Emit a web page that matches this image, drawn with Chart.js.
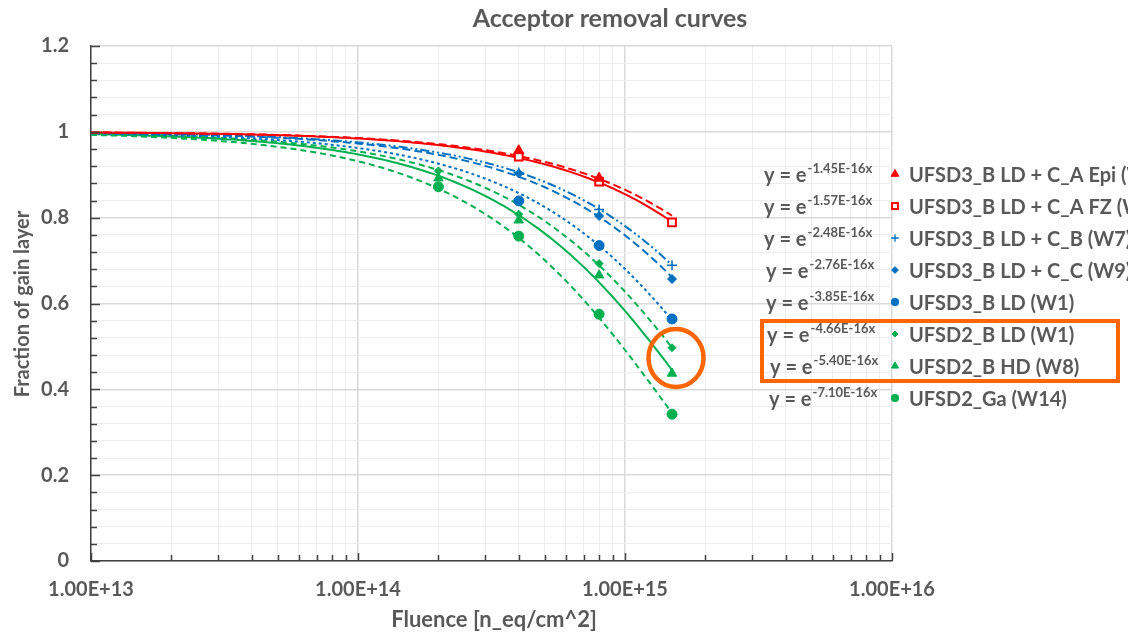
<!DOCTYPE html>
<html>
<head>
<meta charset="utf-8">
<script src="https://cdn.jsdelivr.net/npm/chart.js@4.4.1/dist/chart.umd.min.js"></script>
<style>
  html, body { margin: 0; padding: 0; background: #ffffff; }
  canvas { display: block; }
</style>
</head>
<body>
<canvas id="chart" width="1128" height="632"></canvas>
<script>
// ---- Data -------------------------------------------------------------
const fluence = [2e14, 4e14, 8e14, 1.5e15];          // n_eq/cm^2

const seriesNames = [
  'UFSD3_B LD + C_A Epi (W3)',
  'UFSD3_B LD + C_A FZ (W5)',
  'UFSD3_B LD + C_B (W7)',
  'UFSD3_B LD + C_C (W9)',
  'UFSD3_B LD (W1)',
  'UFSD2_B LD (W1)',
  'UFSD2_B HD (W8)',
  'UFSD2_Ga (W14)'
];

// measured fraction of gain layer at each fluence (null = not measured)
const epiValues  = [null, 0.956, 0.892, null];
const fzValues   = [null, 0.942, 0.884, 0.789];
const cbValues   = [null, 0.905, 0.819, 0.689];
const ccValues   = [null, 0.903, 0.804, 0.657];
const b3ldValues = [null, 0.839, 0.735, 0.564];
const b2ldValues = [0.909, 0.808, 0.693, 0.497];
const b2hdValues = [0.892, 0.794, 0.666, 0.437];
const gaValues   = [0.872, 0.757, 0.575, 0.342];

// exponential fit y = exp(-c * x), c in cm^2
const fitCoefficients = [1.45e-16, 1.57e-16, 2.48e-16, 2.76e-16, 3.85e-16, 4.66e-16, 5.40e-16, 7.10e-16];

const xTickLabels = ['1.00E+13', '1.00E+14', '1.00E+15', '1.00E+16'];
const yTickLabels = ['0', '0.2', '0.4', '0.6', '0.8', '1', '1.2'];

// ---- Styling ----------------------------------------------------------
const FONT = 'Lato, "Open Sans", sans-serif';
const TEXT = '#595959';
const RED = '#FF0000', BLUE = '#0070C0', GREEN = '#00B050';

const seriesStyles = [
  { color: RED,   fill: RED,     pointStyle: 'triangle', radius: 6,   dash: [8, 4] },
  { color: RED,   fill: '#FFFFFF', pointStyle: 'rect',   radius: 5.5, dash: [] },
  { color: BLUE,  fill: BLUE,    pointStyle: 'cross',    radius: 5,   dash: [9, 3, 2, 3, 2, 3] },
  { color: BLUE,  fill: BLUE,    pointStyle: 'rectRot',  radius: 4.5, dash: [8, 4] },
  { color: BLUE,  fill: BLUE,    pointStyle: 'circle',   radius: 5,   dash: [3, 3] },
  { color: GREEN, fill: GREEN,   pointStyle: 'rectRot',  radius: 4,   dash: [6, 4] },
  { color: GREEN, fill: GREEN,   pointStyle: 'triangle', radius: 5.5, dash: [] },
  { color: GREEN, fill: GREEN,   pointStyle: 'circle',   radius: 5,   dash: [6, 4] }
];

const seriesValues = [epiValues, fzValues, cbValues, ccValues, b3ldValues, b2ldValues, b2hdValues, gaValues];

const X_MIN = 1e13, X_MAX = 1e16, FIT_END = 1.5e15;

function fitCurve(c) {
  const pts = [];
  const n = 160;
  for (let i = 0; i <= n; i++) {
    const x = X_MIN * Math.pow(FIT_END / X_MIN, i / n);
    pts.push({ x: x, y: Math.exp(-c * x) });
  }
  return pts;
}

function measured(values) {
  const pts = [];
  values.forEach((v, i) => { if (v !== null) pts.push({ x: fluence[i], y: v }); });
  return pts;
}

const datasets = [];
seriesNames.forEach((name, i) => {
  const st = seriesStyles[i];
  datasets.push({
    label: name + ' fit',
    data: fitCurve(fitCoefficients[i]),
    showLine: true,
    borderColor: st.color,
    borderWidth: 2,
    borderDash: st.dash,
    pointRadius: 0,
    fill: false,
    tension: 0,
    order: 2
  });
});
seriesNames.forEach((name, i) => {
  const st = seriesStyles[i];
  datasets.push({
    label: name,
    data: measured(seriesValues[i]),
    showLine: false,
    pointStyle: st.pointStyle,
    pointRadius: st.radius,
    pointBorderWidth: st.pointStyle === 'rect' ? 2 : (st.pointStyle === 'cross' ? 1.5 : 1),
    pointBorderColor: st.color,
    pointBackgroundColor: st.fill,
    order: 1
  });
});

// x ticks at 1..9 x 10^n, y ticks every 0.04
const xTickValues = [];
for (let e = 13; e <= 16; e++) {
  for (let m = 1; m <= 9; m++) {
    const v = m * Math.pow(10, e);
    if (v <= X_MAX * 1.0001) xTickValues.push(v);
  }
}
const yTickValues = [];
for (let i = 0; i <= 30; i++) yTickValues.push(Math.round(i * 4) / 100);

function isDecade(v) {
  const l = Math.log10(v);
  return Math.abs(l - Math.round(l)) < 1e-9;
}
function isMajorY(v) {
  return Math.abs(v / 0.2 - Math.round(v / 0.2)) < 1e-6;
}

function fitLabel(c) {
  const exp = Math.floor(Math.log10(c));
  const mant = c / Math.pow(10, exp);
  return '-' + mant.toFixed(2) + 'E' + (exp < 0 ? '-' : '+') + String(Math.abs(exp)) + 'x';
}

// ---- Decorations: inward tick marks, titles, legend, highlight --------
const eqOffsets = [764, 764, 764, 766, 766, 767, 770, 769];

const decorations = {
  id: 'decorations',
  afterDraw(chart) {
    const ctx = chart.ctx;
    const xs = chart.scales.x, ys = chart.scales.y;
    const area = chart.chartArea;

    // tick marks pointing into the plot
    ctx.save();
    ctx.strokeStyle = '#404040';
    ctx.lineWidth = 1.5;
    yTickValues.forEach(v => {
      const y = Math.round(ys.getPixelForValue(v)) + 0.5;
      const len = isMajorY(v) ? 9 : 6;
      ctx.beginPath();
      ctx.moveTo(area.left, y);
      ctx.lineTo(area.left + len, y);
      ctx.stroke();
    });
    xTickValues.forEach(v => {
      const x = Math.round(xs.getPixelForValue(v)) + 0.5;
      const len = isDecade(v) ? 8 : 6;
      ctx.beginPath();
      ctx.moveTo(x, area.bottom);
      ctx.lineTo(x, area.bottom - len);
      ctx.stroke();
    });
    ctx.restore();

    // titles
    ctx.save();
    ctx.fillStyle = TEXT;
    ctx.textAlign = 'center';
    ctx.textBaseline = 'middle';
    ctx.font = 'bold 25px ' + FONT;
    ctx.fillText('Acceptor removal curves', 610, 19);
    ctx.font = 'bold 22px ' + FONT;
    ctx.fillText('Fluence [n_eq/cm^2]', 494, 620);
    ctx.font = 'bold 20px ' + FONT;
    ctx.translate(22.5, 304);
    ctx.rotate(-Math.PI / 2);
    ctx.fillText('Fraction of gain layer', 0, 0);
    ctx.restore();

    // legend with fit equations
    ctx.save();
    seriesNames.forEach((name, i) => {
      const st = seriesStyles[i];
      const rowY = 174 + 32 * i;
      const base = rowY + 7.5;

      ctx.fillStyle = st.fill;
      ctx.strokeStyle = st.color;
      ctx.lineWidth = st.pointStyle === 'rect' ? 2 : (st.pointStyle === 'cross' ? 1.3 : 1);
      ctx.setLineDash([]);
      Chart.helpers.drawPoint(ctx, {
        pointStyle: st.pointStyle,
        radius: st.radius * 0.75,
        rotation: 0,
        borderWidth: ctx.lineWidth
      }, 895, rowY);

      ctx.fillStyle = TEXT;
      ctx.textAlign = 'left';
      ctx.textBaseline = 'alphabetic';
      ctx.font = 'bold 20px ' + FONT;
      ctx.fillText(name, 909, base);

      const ex = eqOffsets[i];
      const head = 'y = e';
      ctx.fillText(head, ex, base);
      const w = ctx.measureText(head).width;
      ctx.font = 'bold 13px ' + FONT;
      ctx.fillText(fitLabel(fitCoefficients[i]), ex + w + 1, base - 9);
    });
    ctx.restore();

    // orange highlight: box around two legend rows and ring around their last points
    ctx.save();
    ctx.strokeStyle = '#FF6600';
    ctx.lineWidth = 4;
    ctx.strokeRect(762, 321, 356, 60);
    ctx.lineWidth = 4.5;
    const cx = xs.getPixelForValue(FIT_END) + 4;
    const cy = ys.getPixelForValue(0.473);
    ctx.beginPath();
    ctx.ellipse(cx, cy, 27.5, 29, 0, 0, Math.PI * 2);
    ctx.stroke();
    ctx.restore();
  }
};

new Chart(document.getElementById('chart').getContext('2d'), {
  type: 'scatter',
  data: { datasets: datasets },
  options: {
    responsive: false,
    animation: false,
    devicePixelRatio: 1,
    layout: { padding: { left: 0, top: 46, right: 236, bottom: 0 } },
    plugins: {
      legend: { display: false },
      tooltip: { enabled: false },
      title: { display: false }
    },
    scales: {
      x: {
        type: 'logarithmic',
        min: X_MIN,
        max: X_MAX,
        afterBuildTicks: s => { s.ticks = xTickValues.map(v => ({ value: v })); },
        afterFit: s => { s.height = 71; },
        ticks: {
          autoSkip: false,
          maxRotation: 0,
          minRotation: 0,
          padding: 17,
          color: TEXT,
          font: { family: FONT, size: 20, weight: 'bold' },
          callback: v => isDecade(v) ? xTickLabels[Math.round(Math.log10(v)) - 13] : ''
        },
        grid: {
          drawTicks: false,
          color: c => (c.tick && isDecade(c.tick.value)) ? '#D9D9D9' : '#EDEDED',
          lineWidth: c => (c.tick && isDecade(c.tick.value)) ? 1.5 : 1
        },
        border: { color: '#404040', width: 1.5 }
      },
      y: {
        type: 'linear',
        min: 0,
        max: 1.2,
        afterBuildTicks: s => { s.ticks = yTickValues.map(v => ({ value: v })); },
        afterFit: s => { s.width = 91; },
        ticks: {
          autoSkip: false,
          padding: 22,
          color: TEXT,
          font: { family: FONT, size: 20, weight: 'bold' },
          callback: v => isMajorY(v) ? yTickLabels[Math.round(v / 0.2)] : ''
        },
        grid: {
          drawTicks: false,
          color: c => (c.tick && isMajorY(c.tick.value)) ? '#D9D9D9' : '#EDEDED',
          lineWidth: c => (c.tick && isMajorY(c.tick.value)) ? 1.5 : 1
        },
        border: { color: '#404040', width: 1.5 }
      }
    }
  },
  plugins: [decorations]
});
</script>
</body>
</html>
